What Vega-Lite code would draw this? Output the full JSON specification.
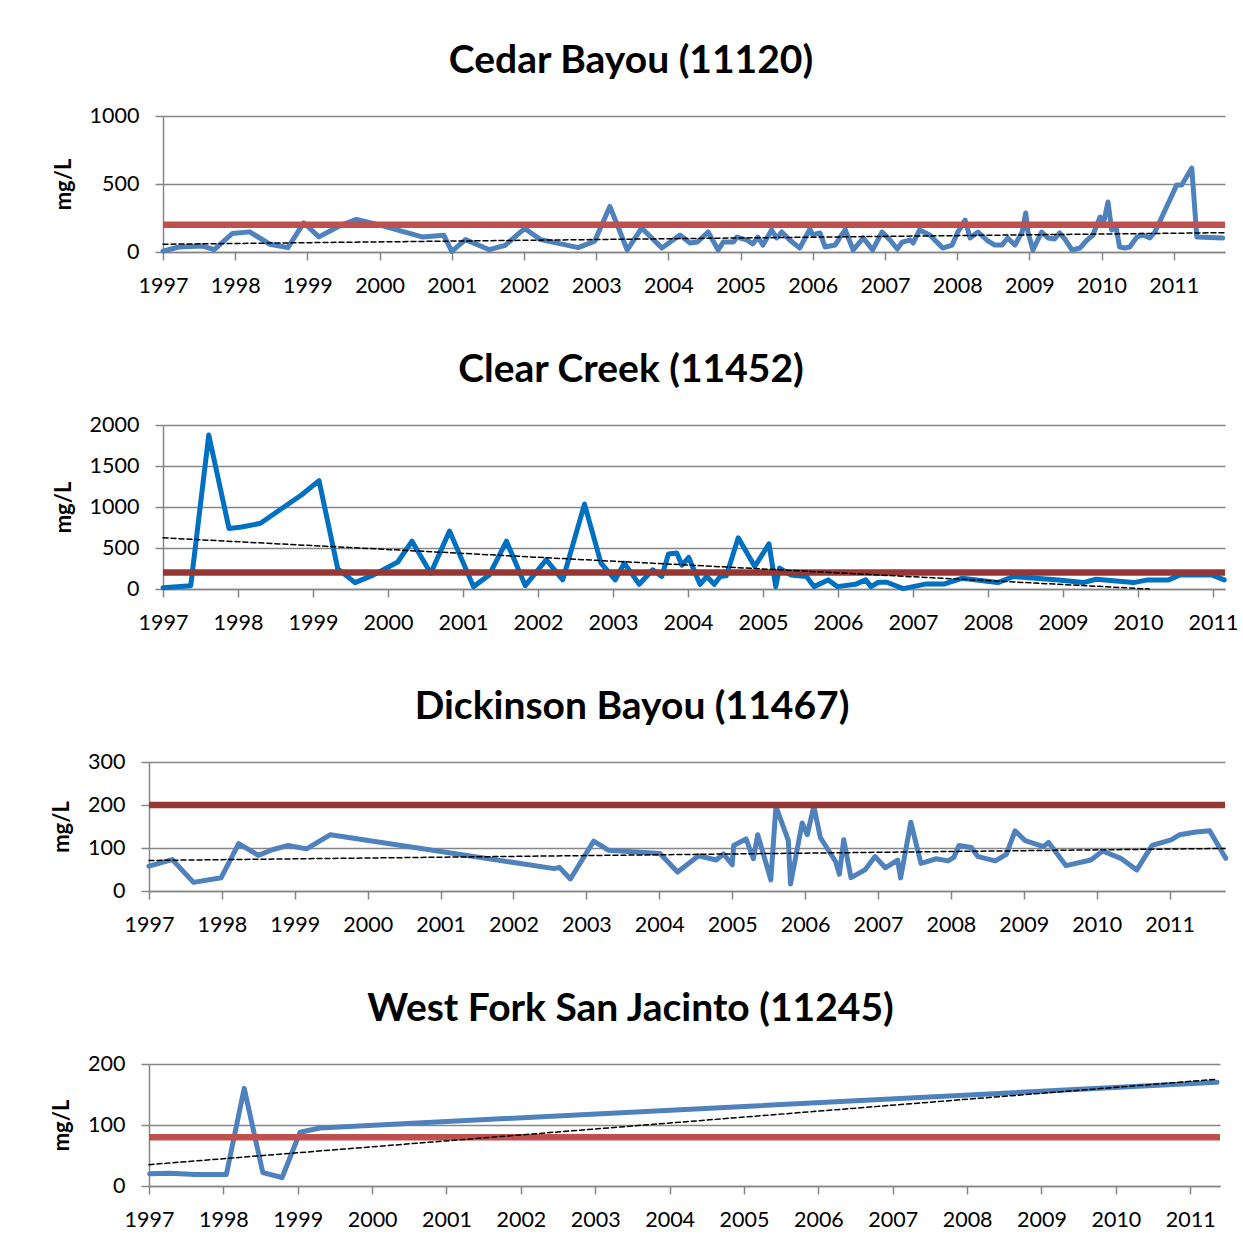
{
  "$schema": "https://vega.github.io/schema/vega-lite/v6.json",
  "padding": {"left": 50, "top": 42, "right": 0, "bottom": 0},
  "background": "white",
  "spacing": 54,
  "columns": 1,
  "align": "none",
  "config": {
    "view": {"stroke": null},
    "font": "Lato",
    "title": {"font": "Lato", "fontWeight": "bold", "fontSize": 39, "color": "black", "anchor": "middle", "offset": 24},
    "axis": {
      "labelFont": "Lato", "labelFontSize": 21.5, "labelColor": "black",
      "domainColor": "#868686", "domainWidth": 1.5,
      "tickColor": "#868686", "tickWidth": 1.5, "tickSize": 8,
      "gridColor": "#868686", "gridWidth": 1.5,
      "titleFont": "Lato", "titleFontWeight": "bold", "titleFontSize": 22, "titleColor": "black",
      "labelPadding": 15, "titlePadding": 14
    },
    "axisY": {"labelPadding": 16},
    "axisX": {"grid": false, "labelOverlap": false, "labelFlush": false},
    "line": {"strokeJoin": "round", "strokeCap": "round"}
  },
  "datasets": {
    "cedar": [
      {"t":1997.0,"v":7},{"t":1997.22,"v":37},{"t":1997.55,"v":44},{"t":1997.71,"v":17},{"t":1997.96,"v":136},
      {"t":1998.2,"v":148},{"t":1998.48,"v":57},{"t":1998.73,"v":32},{"t":1998.95,"v":215},{"t":1999.16,"v":111},
      {"t":1999.47,"v":198},{"t":1999.68,"v":240},{"t":2000.01,"v":198},{"t":2000.34,"v":148},{"t":2000.59,"v":111},
      {"t":2000.89,"v":123},{"t":2001.0,"v":5},{"t":2001.19,"v":91},{"t":2001.52,"v":17},{"t":2001.74,"v":49},
      {"t":2002.01,"v":173},{"t":2002.23,"v":91},{"t":2002.56,"v":54},{"t":2002.75,"v":32},{"t":2002.98,"v":80},
      {"t":2003.19,"v":335},{"t":2003.43,"v":15},{"t":2003.63,"v":176},{"t":2003.91,"v":29},{"t":2004.16,"v":125},
      {"t":2004.3,"v":66},{"t":2004.4,"v":73},{"t":2004.55,"v":147},{"t":2004.69,"v":15},{"t":2004.76,"v":73},
      {"t":2004.9,"v":73},{"t":2004.95,"v":110},{"t":2005.09,"v":88},{"t":2005.17,"v":59},{"t":2005.24,"v":110},
      {"t":2005.31,"v":51},{"t":2005.43,"v":162},{"t":2005.5,"v":103},{"t":2005.57,"v":147},{"t":2005.68,"v":88},
      {"t":2005.82,"v":29},{"t":2005.96,"v":169},{"t":2006.0,"v":125},{"t":2006.1,"v":140},{"t":2006.17,"v":37},
      {"t":2006.31,"v":51},{"t":2006.38,"v":110},{"t":2006.45,"v":162},{"t":2006.56,"v":15},{"t":2006.7,"v":103},
      {"t":2006.83,"v":15},{"t":2006.96,"v":147},{"t":2007.07,"v":88},{"t":2007.17,"v":22},{"t":2007.24,"v":73},
      {"t":2007.35,"v":88},{"t":2007.39,"v":66},{"t":2007.48,"v":162},{"t":2007.62,"v":125},{"t":2007.8,"v":29},
      {"t":2007.93,"v":51},{"t":2008.01,"v":147},{"t":2008.11,"v":235},{"t":2008.18,"v":103},{"t":2008.29,"v":147},
      {"t":2008.41,"v":88},{"t":2008.52,"v":51},{"t":2008.62,"v":51},{"t":2008.7,"v":103},{"t":2008.8,"v":51},
      {"t":2008.9,"v":147},{"t":2008.95,"v":287},{"t":2008.98,"v":147},{"t":2009.05,"v":15},{"t":2009.17,"v":147},
      {"t":2009.26,"v":103},{"t":2009.35,"v":96},{"t":2009.42,"v":140},{"t":2009.49,"v":96},{"t":2009.59,"v":15},
      {"t":2009.7,"v":29},{"t":2009.8,"v":88},{"t":2009.88,"v":125},{"t":2009.98,"v":257},{"t":2010.03,"v":220},
      {"t":2010.09,"v":368},{"t":2010.14,"v":162},{"t":2010.2,"v":184},{"t":2010.25,"v":37},{"t":2010.32,"v":29},
      {"t":2010.39,"v":37},{"t":2010.49,"v":110},{"t":2010.57,"v":125},{"t":2010.67,"v":103},{"t":2010.74,"v":147},
      {"t":2011.04,"v":492},{"t":2011.11,"v":492},{"t":2011.25,"v":617},{"t":2011.32,"v":110},{"t":2011.68,"v":103}
    ],
    "clear": [
      {"t":1997.0,"v":16},{"t":1997.37,"v":41},{"t":1997.61,"v":1877},{"t":1997.88,"v":739},{"t":1998.05,"v":756},
      {"t":1998.3,"v":801},{"t":1998.57,"v":973},{"t":1998.85,"v":1150},{"t":1999.08,"v":1322},{"t":1999.33,"v":246},
      {"t":1999.56,"v":78},{"t":1999.81,"v":172},{"t":2000.13,"v":329},{"t":2000.32,"v":583},{"t":2000.57,"v":193},
      {"t":2000.82,"v":706},{"t":2001.14,"v":29},{"t":2001.35,"v":172},{"t":2001.58,"v":583},{"t":2001.83,"v":41},
      {"t":2002.11,"v":357},{"t":2002.33,"v":111},{"t":2002.62,"v":1035},{"t":2002.84,"v":316},{"t":2003.03,"v":111},
      {"t":2003.15,"v":316},{"t":2003.35,"v":57},{"t":2003.53,"v":234},{"t":2003.65,"v":152},{"t":2003.74,"v":427},
      {"t":2003.85,"v":439},{"t":2003.92,"v":290},{"t":2004.01,"v":385},{"t":2004.16,"v":57},{"t":2004.25,"v":152},
      {"t":2004.35,"v":57},{"t":2004.43,"v":152},{"t":2004.51,"v":160},{"t":2004.67,"v":624},{"t":2004.89,"v":275},
      {"t":2005.08,"v":550},{"t":2005.17,"v":29},{"t":2005.22,"v":255},{"t":2005.37,"v":172},{"t":2005.58,"v":152},
      {"t":2005.68,"v":29},{"t":2005.87,"v":111},{"t":2005.99,"v":29},{"t":2006.23,"v":57},{"t":2006.37,"v":111},
      {"t":2006.44,"v":29},{"t":2006.54,"v":82},{"t":2006.65,"v":82},{"t":2006.87,"v":5},{"t":2007.18,"v":62},
      {"t":2007.42,"v":62},{"t":2007.65,"v":131},{"t":2008.13,"v":78},{"t":2008.34,"v":152},{"t":2008.94,"v":111},
      {"t":2009.27,"v":78},{"t":2009.44,"v":119},{"t":2009.94,"v":78},{"t":2010.13,"v":111},{"t":2010.41,"v":111},
      {"t":2010.56,"v":172},{"t":2010.98,"v":172},{"t":2011.15,"v":111}
    ],
    "dickinson": [
      {"t":1997.0,"v":58},{"t":1997.32,"v":73},{"t":1997.61,"v":20},{"t":1997.99,"v":31},{"t":1998.23,"v":110},
      {"t":1998.5,"v":83},{"t":1998.69,"v":96},{"t":1998.91,"v":106},{"t":1999.16,"v":98},{"t":1999.49,"v":131},
      {"t":2002.56,"v":52},{"t":2002.63,"v":55},{"t":2002.78,"v":28},{"t":2003.1,"v":116},{"t":2003.3,"v":95},
      {"t":2004.01,"v":87},{"t":2004.25,"v":44},{"t":2004.54,"v":82},{"t":2004.78,"v":72},{"t":2004.88,"v":86},
      {"t":2005.0,"v":61},{"t":2005.02,"v":106},{"t":2005.19,"v":121},{"t":2005.29,"v":75},{"t":2005.35,"v":131},
      {"t":2005.53,"v":26},{"t":2005.6,"v":197},{"t":2005.77,"v":117},{"t":2005.8,"v":16},{"t":2005.96,"v":158},
      {"t":2006.03,"v":131},{"t":2006.12,"v":197},{"t":2006.21,"v":124},{"t":2006.42,"v":68},{"t":2006.47,"v":39},
      {"t":2006.53,"v":119},{"t":2006.63,"v":31},{"t":2006.82,"v":49},{"t":2006.96,"v":80},{"t":2007.1,"v":54},
      {"t":2007.27,"v":72},{"t":2007.31,"v":30},{"t":2007.45,"v":160},{"t":2007.59,"v":64},{"t":2007.8,"v":75},
      {"t":2007.96,"v":70},{"t":2008.04,"v":78},{"t":2008.11,"v":106},{"t":2008.28,"v":101},{"t":2008.37,"v":80},
      {"t":2008.61,"v":70},{"t":2008.76,"v":85},{"t":2008.88,"v":140},{"t":2009.02,"v":117},{"t":2009.27,"v":103},
      {"t":2009.34,"v":113},{"t":2009.58,"v":59},{"t":2009.92,"v":72},{"t":2010.08,"v":93},{"t":2010.33,"v":76},
      {"t":2010.55,"v":49},{"t":2010.76,"v":106},{"t":2011.02,"v":119},{"t":2011.14,"v":131},{"t":2011.36,"v":137},
      {"t":2011.55,"v":140},{"t":2011.77,"v":76}
    ],
    "westfork": [
      {"t":1997.01,"v":20},{"t":1997.28,"v":21},{"t":1997.62,"v":19},{"t":1998.04,"v":19},{"t":1998.28,"v":160},
      {"t":1998.53,"v":22},{"t":1998.79,"v":14},{"t":1999.03,"v":88},{"t":1999.3,"v":95},{"t":2011.36,"v":170}
    ]
  },
  "concat": [
    {
      "title": {"text": "Cedar Bayou (11120)", "dx": -56},
      "width": 1076, "height": 136,
      "layer": [
        {"data": {"name": "cedar"},
         "mark": {"type": "line", "color": "#4F81BD", "strokeWidth": 5},
         "encoding": {
           "x": {"field": "t", "type": "quantitative", "scale": {"domain": [1997, 2011.71], "range": [14, 1076], "nice": false, "zero": false}, "axis": {"title": null, "values": [1997,1998,1999,2000,2001,2002,2003,2004,2005,2006,2007,2008,2009,2010,2011], "format": "d"}},
           "y": {"field": "v", "type": "quantitative", "scale": {"domain": [0, 1000], "nice": false}, "axis": {"title": "mg/L", "values": [0, 500, 1000], "format": "d", "offset": -14}}
         }},
        {"data": {"values": [{"std": 200, "t0": 1997, "t1": 2011.71}]},
         "mark": {"type": "rule", "color": "#C0504D", "strokeWidth": 6.5},
         "encoding": {"y": {"field": "std", "type": "quantitative"}, "x": {"field": "t0", "type": "quantitative"}, "x2": {"field": "t1"}}},
        {"data": {"values": [{"t": 1997, "v": 57}, {"t": 2011.71, "v": 142}]},
         "mark": {"type": "line", "color": "black", "strokeWidth": 1.5, "strokeDash": [5, 3]},
         "encoding": {"x": {"field": "t", "type": "quantitative"}, "y": {"field": "v", "type": "quantitative"}}}
      ]
    },
    {
      "title": {"text": "Clear Creek (11452)", "dx": -56},
      "width": 1076, "height": 164,
      "layer": [
        {"data": {"name": "clear"},
         "mark": {"type": "line", "color": "#0070C0", "strokeWidth": 5},
         "encoding": {
           "x": {"field": "t", "type": "quantitative", "scale": {"domain": [1997, 2011.16], "range": [14, 1076], "nice": false, "zero": false}, "axis": {"title": null, "values": [1997,1998,1999,2000,2001,2002,2003,2004,2005,2006,2007,2008,2009,2010,2011], "format": "d"}},
           "y": {"field": "v", "type": "quantitative", "scale": {"domain": [0, 2000], "nice": false}, "axis": {"title": "mg/L", "values": [0, 500, 1000, 1500, 2000], "format": "d", "offset": -14}}
         }},
        {"data": {"values": [{"std": 200, "t0": 1997, "t1": 2011.16}]},
         "mark": {"type": "rule", "color": "#953735", "strokeWidth": 6.5},
         "encoding": {"y": {"field": "std", "type": "quantitative"}, "x": {"field": "t0", "type": "quantitative"}, "x2": {"field": "t1"}}},
        {"data": {"values": [{"t": 1997, "v": 624}, {"t": 2010.15, "v": 0}]},
         "mark": {"type": "line", "color": "black", "strokeWidth": 1.5, "strokeDash": [5, 3]},
         "encoding": {"x": {"field": "t", "type": "quantitative"}, "y": {"field": "v", "type": "quantitative"}}}
      ]
    },
    {
      "title": {"text": "Dickinson Bayou (11467)", "dx": -55},
      "width": 1076, "height": 129,
      "layer": [
        {"data": {"name": "dickinson"},
         "mark": {"type": "line", "color": "#4F81BD", "strokeWidth": 5},
         "encoding": {
           "x": {"field": "t", "type": "quantitative", "scale": {"domain": [1997, 2011.76], "nice": false, "zero": false}, "axis": {"title": null, "values": [1997,1998,1999,2000,2001,2002,2003,2004,2005,2006,2007,2008,2009,2010,2011], "format": "d"}},
           "y": {"field": "v", "type": "quantitative", "scale": {"domain": [0, 300], "nice": false}, "axis": {"title": "mg/L", "values": [0, 100, 200, 300], "format": "d"}}
         }},
        {"data": {"values": [{"std": 200}]},
         "mark": {"type": "rule", "color": "#953735", "strokeWidth": 6.5},
         "encoding": {"y": {"field": "std", "type": "quantitative"}}},
        {"data": {"values": [{"t": 1997, "v": 71}, {"t": 2011.76, "v": 99}]},
         "mark": {"type": "line", "color": "black", "strokeWidth": 1.5, "strokeDash": [5, 3]},
         "encoding": {"x": {"field": "t", "type": "quantitative"}, "y": {"field": "v", "type": "quantitative"}}}
      ]
    },
    {
      "title": {"text": "West Fork San Jacinto (11245)", "dx": -54},
      "width": 1071, "height": 122,
      "layer": [
        {"data": {"name": "westfork"},
         "mark": {"type": "line", "color": "#4F81BD", "strokeWidth": 5},
         "encoding": {
           "x": {"field": "t", "type": "quantitative", "scale": {"domain": [1997, 2011.4], "nice": false, "zero": false}, "axis": {"title": null, "values": [1997,1998,1999,2000,2001,2002,2003,2004,2005,2006,2007,2008,2009,2010,2011], "format": "d"}},
           "y": {"field": "v", "type": "quantitative", "scale": {"domain": [0, 200], "nice": false}, "axis": {"title": "mg/L", "values": [0, 100, 200], "format": "d"}}
         }},
        {"data": {"values": [{"std": 80}]},
         "mark": {"type": "rule", "color": "#C0504D", "strokeWidth": 6.5},
         "encoding": {"y": {"field": "std", "type": "quantitative"}}},
        {"data": {"values": [{"t": 1997, "v": 35}, {"t": 2011.36, "v": 175}]},
         "mark": {"type": "line", "color": "black", "strokeWidth": 1.5, "strokeDash": [5, 3]},
         "encoding": {"x": {"field": "t", "type": "quantitative"}, "y": {"field": "v", "type": "quantitative"}}}
      ]
    }
  ]
}
